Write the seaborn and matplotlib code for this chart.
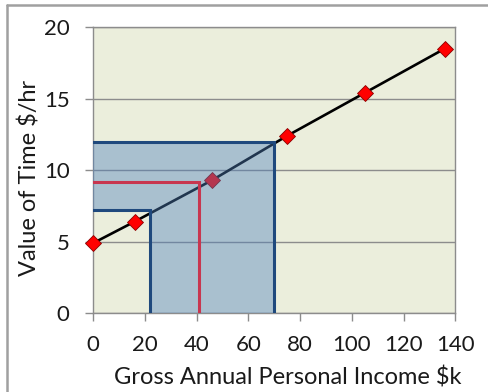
import matplotlib
matplotlib.use("Agg")
import matplotlib.pyplot as plt
import seaborn as sns
import pandas as pd
from matplotlib.lines import Line2D

# value of time by income
income = [0, 16, 46, 75, 105, 136]
value_of_time = [4.9, 6.4, 9.3, 12.4, 15.4, 18.5]

# income band and its value-of-time range
band_income = [22, 70]
band_vot = [7.2, 12]
# the marked average
mid_income = 41
mid_vot = 9.15

x_ticks = [0, 20, 40, 60, 80, 100, 120, 140]
y_ticks = [0, 5, 10, 15, 20]

sns.set_style("white")
plt.rcParams['font.family'] = ['Lato', 'DejaVu Sans']

df = pd.DataFrame({'income': income, 'vot': value_of_time})

fig = plt.figure(figsize=(4.88, 3.92), dpi=100)
ax = fig.add_axes([0.191, 0.201, 0.742, 0.730])
ax.set_facecolor('#EBEEDC')

sns.lineplot(data=df, x='income', y='vot', ax=ax, color='black', linewidth=1.9,
             marker='D', markersize=8.5, markerfacecolor='#FF0000',
             markeredgecolor='#8B0000', markeredgewidth=0.6, zorder=3, clip_on=False)

# shaded band (L shape)
lo_x, hi_x = band_income
lo_y, hi_y = band_vot
ax.fill([0, hi_x, hi_x, lo_x, lo_x, 0], [hi_y, hi_y, 0, 0, lo_y, lo_y],
        color='#4F81BD', alpha=0.42, linewidth=0, zorder=4)

blue = '#1F497D'
ax.plot([0, hi_x, hi_x], [hi_y, hi_y, 0], color=blue, lw=2.2, zorder=5, solid_joinstyle='miter')
ax.plot([0, lo_x, lo_x], [lo_y, lo_y, 0], color=blue, lw=2.2, zorder=5, solid_joinstyle='miter')
ax.plot([0, mid_income, mid_income], [mid_vot, mid_vot, 0], color='#C8364F', lw=2.2, zorder=5,
        solid_joinstyle='miter')

ax.set_xlim(0, 140)
ax.set_ylim(0, 20)
ax.set_xticks(x_ticks)
ax.set_yticks(y_ticks)
ax.yaxis.grid(True, color='#8C8C8C', linewidth=1.0, zorder=1)
ax.set_axisbelow(True)
for s in ax.spines.values():
    s.set_color('#8C8C8C')
    s.set_linewidth(1.0)

ax.tick_params(axis='both', direction='out', length=6, width=1.0, color='#8C8C8C',
               labelsize=16, labelcolor='#1a1a1a')
ax.tick_params(axis='x', pad=10, bottom=True)
ax.tick_params(axis='y', pad=11, left=True)

ax.set_xlabel('Gross Annual Personal Income $k', fontsize=17, color='#1a1a1a', va='center')
ax.xaxis.set_label_coords(0.536, -0.224)
ax.set_ylabel('Value of Time $/hr', fontsize=17, color='#1a1a1a', va='center')
ax.yaxis.set_label_coords(-0.176, 0.472)

# outer frame (left and top edges)
fig.add_artist(Line2D([7 / 488, 7 / 488], [0, 1 - 5 / 392], transform=fig.transFigure,
                      color='#A0A0A0', lw=1.8))
fig.add_artist(Line2D([7 / 488, 1], [1 - 5 / 392, 1 - 5 / 392], transform=fig.transFigure,
                      color='#A0A0A0', lw=1.8))

fig.savefig('out.png', dpi=100, facecolor='white')
